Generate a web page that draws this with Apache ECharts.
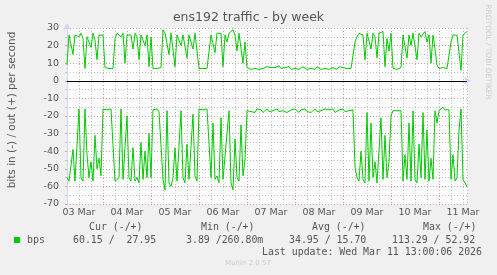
<!DOCTYPE html>
<html><head><meta charset="utf-8">
<script src="https://cdn.jsdelivr.net/npm/echarts@6/dist/echarts.min.js"></script>
<style>html,body{margin:0;padding:0;background:#F0F0F0}#c{width:497px;height:275px}</style>
</head><body><div id="c"></div>
<script>
// Time axis in hours since 03 Mar 00:00, one sample per hour
const startHour = 6;
const dayLabels = ['03 Mar','04 Mar','05 Mar','06 Mar','07 Mar','08 Mar','09 Mar','10 Mar','11 Mar'];

// out (+) in bits per second
const outBps = [
  9, 26, 26, 15, 26, 27, 25, 27, 24, 7, 25, 26, 19, 27, 23, 12, 26, 25, 26,
  7.5, 7, 7, 7.5, 7,
  24, 27, 26, 25, 27, 10, 26, 27, 26, 18, 27, 25, 12, 26, 27, 20, 26, 8, 25,
  7, 6.5, 7, 7, 7.5,
  29, 27, 28, 15, 27, 26, 8, 26, 27, 20, 26, 27, 13, 26, 25, 18, 27, 26,
  7, 6.5, 7, 7.5, 7, 7,
  26, 25, 16, 27, 26, 27, 8, 26, 22, 27, 28, 29, 26, 17, 27, 26, 10, 22,
  7.5, 7, 6.5, 7.5, 7, 8, 6.5, 7.5, 7, 6.5,
  8, 7, 7.5, 6.5, 7.5, 7, 8.5, 7, 6.5, 7.5,
  7, 8, 6.5, 7.5, 7, 7.5, 6.5, 7, 8, 7,
  6.5, 7.5, 7, 7.5, 6.5, 8, 7, 6.5, 7.5, 7,
  7.5, 6.5, 7, 7.5, 7, 6.5, 8, 7, 7.5, 6.5,
  7, 7.5, 7, 7.5,
  22, 25, 27, 28, 26, 12, 27, 26, 18, 27, 25, 13, 27, 26, 28, 8, 24, 17, 27,
  7, 7.5, 6.5, 7, 7.5,
  26, 27, 13, 26, 20, 27, 26, 12, 27, 25, 26, 28, 22, 26, 10, 26, 18, 9,
  7, 6.5, 7.5, 7, 7, 7.5,
  22, 26, 27, 26, 27, 6, 26, 27, 28
];

// in (-) in bits per second, drawn below zero
const inBps = [
  -55, -57, -56, -39, -57, -56, -16, -55, -57, -16, -42, -55, -46, -57, -31, -50, -44, -54, -16,
  -17, -16.5, -17.5, -16, -17,
  -57, -58, -55, -16, -56, -57, -20, -55, -57, -38, -57, -55, -58, -35, -56, -40, -55, -30, -55,
  -16.5, -17, -16, -17.5, -17,
  -56, -62, -17, -58, -60, -55, -38, -57, -56, -17, -55, -58, -36, -56, -55, -19, -54, -57,
  -16, -17, -16.5, -17, -16, -17,
  -55, -24, -56, -54, -58, -21, -56, -57, -30, -17, -58, -62, -33, -55, -57, -25, -54, -45,
  -17, -16, -17.5, -16.5, -18, -16, -17, -16.5, -18, -17,
  -16, -17.5, -16.5, -17, -18, -16, -17.5, -16.5, -17, -16,
  -18, -17, -16.5, -17.5, -16, -17, -18, -16.5, -17, -16,
  -17.5, -16.5, -18, -17, -16, -17.5, -16.5, -17, -18, -16,
  -17, -16.5, -17.5, -16, -18, -17, -16.5, -17, -16, -17.5,
  -16.5, -17, -18, -16.5,
  -49, -55, -57, -40, -56, -58, -18, -57, -24, -55, -46, -58, -57, -21, -56, -31, -55, -46, -20,
  -17, -16, -17, -16.5, -17,
  -57, -42, -56, -24, -57, -17, -56, -58, -36, -55, -18, -56, -28, -57, -44, -56, -17, -24,
  -17, -16, -15, -16.5, -17, -16.5,
  -56, -42, -57, -55, -28, -16, -56, -57, -60
];

const legendHeads = ['Cur (-/+)', 'Min (-/+)', 'Avg (-/+)', 'Max (-/+)'];
const legendVals = ['60.15 /  27.95', '3.89 /260.80m', '34.95 / 15.70', '113.29 / 52.92'];
const lastUpdate = 'Last update: Wed Mar 11 13:00:06 2026';

const toPairs = arr => arr.map((v, i) => [startHour + i, v]);
const GREEN = '#00CC00';
const AXIS = '#CFD6F8';
const MGRID = '#E39A9A';
const GRID = '#C4C4C4';
const FONT = 'DejaVu Sans';
const MONO = '"DejaVu Sans Mono"';

const chart = echarts.init(document.getElementById('c'), null, {renderer: 'canvas'});

const headX = [89, 201, 312, 423];
const valX = [73, 186, 289, 392];
const graphics = [
  {type: 'text', x: 12, y: 110, rotation: Math.PI / 2,
   style: {text: 'bits in (-) / out (+) per second', fill: '#555', font: '10.5px ' + FONT, align: 'center', verticalAlign: 'middle'}},
  {type: 'text', x: 487.5, y: 52, rotation: -Math.PI / 2,
   style: {text: 'RRDTOOL / TOBI OETIKER', fill: '#cccccc', font: '7.4px ' + FONT, align: 'center', verticalAlign: 'middle'}},
  {type: 'rect', shape: {x: 14, y: 237, width: 6, height: 6}, style: {fill: GREEN}},
  {type: 'text', x: 27, y: 240, style: {text: 'bps', fill: '#555', font: '9.9px ' + MONO, verticalAlign: 'middle'}},
  {type: 'text', x: 482, y: 252, style: {text: lastUpdate, fill: '#555', font: '9.9px ' + MONO, align: 'right', verticalAlign: 'middle'}},
  {type: 'text', x: 248, y: 263, style: {text: 'Munin 2.0.57', fill: '#cccccc', font: '7px ' + FONT, align: 'center', verticalAlign: 'middle'}}
];
legendHeads.forEach((t, i) => graphics.push({type: 'text', x: headX[i], y: 227, style: {text: t, fill: '#555', font: '9.9px ' + MONO, verticalAlign: 'middle'}}));
legendVals.forEach((t, i) => graphics.push({type: 'text', x: valX[i], y: 240, style: {text: t, fill: '#555', font: '9.9px ' + MONO, verticalAlign: 'middle'}}));

chart.setOption({
  backgroundColor: '#F0F0F0',
  animation: false,
  title: {text: 'ens192 traffic - by week', left: 'center', top: 11, padding: 0,
    textStyle: {color: '#555', fontWeight: 'normal', fontSize: 12.5, fontFamily: FONT}},
  grid: {left: 67, right: 30, top: 28, bottom: 71, show: true, backgroundColor: '#FFFFFF', borderWidth: 0},
  xAxis: {
    type: 'value', min: 6, max: 206, interval: 6,
    axisLine: {show: true, lineStyle: {color: AXIS, width: 1}, symbol: ['none', 'arrow'], symbolSize: [6, 7], symbolOffset: [0, 4]},
    axisTick: {show: true, length: 2, lineStyle: {color: GRID}},
    splitLine: {show: true, lineStyle: {color: [GRID, GRID, GRID, MGRID], type: [1, 2], width: 1}},
    axisLabel: {
      color: '#555', fontSize: 9.5, fontFamily: FONT, margin: 4,
      formatter: v => ((v - 12) % 24 === 0 ? dayLabels[(v - 12) / 24] : '')
    }
  },
  yAxis: {
    type: 'value', min: -70, max: 30, interval: 10,
    axisLine: {show: true, lineStyle: {color: AXIS, width: 1}, symbol: ['none', 'arrow'], symbolSize: [6, 7], symbolOffset: [0, 5]},
    axisTick: {show: true, length: 2, lineStyle: {color: MGRID}},
    minorTick: {show: true, splitNumber: 2, length: 2, lineStyle: {color: GRID}},
    splitLine: {show: true, lineStyle: {color: MGRID, type: [1, 2], width: 1}},
    minorSplitLine: {show: true, lineStyle: {color: GRID, type: [1, 2], width: 1}},
    axisLabel: {color: '#555', fontSize: 9.5, fontFamily: FONT, margin: 8}
  },
  series: [
    {type: 'line', name: 'out', data: toPairs(outBps), showSymbol: false, symbol: 'none',
     lineStyle: {color: GREEN, width: 1}, itemStyle: {color: GREEN}, z: 3,
     markLine: {silent: true, symbol: 'none', label: {show: false},
       lineStyle: {color: '#000', width: 1, type: 'solid'}, data: [{yAxis: 0}]}},
    {type: 'line', name: 'in', data: toPairs(inBps), showSymbol: false, symbol: 'none',
     lineStyle: {color: GREEN, width: 1}, itemStyle: {color: GREEN}, z: 3}
  ],
  graphic: graphics
});
</script></body></html>
